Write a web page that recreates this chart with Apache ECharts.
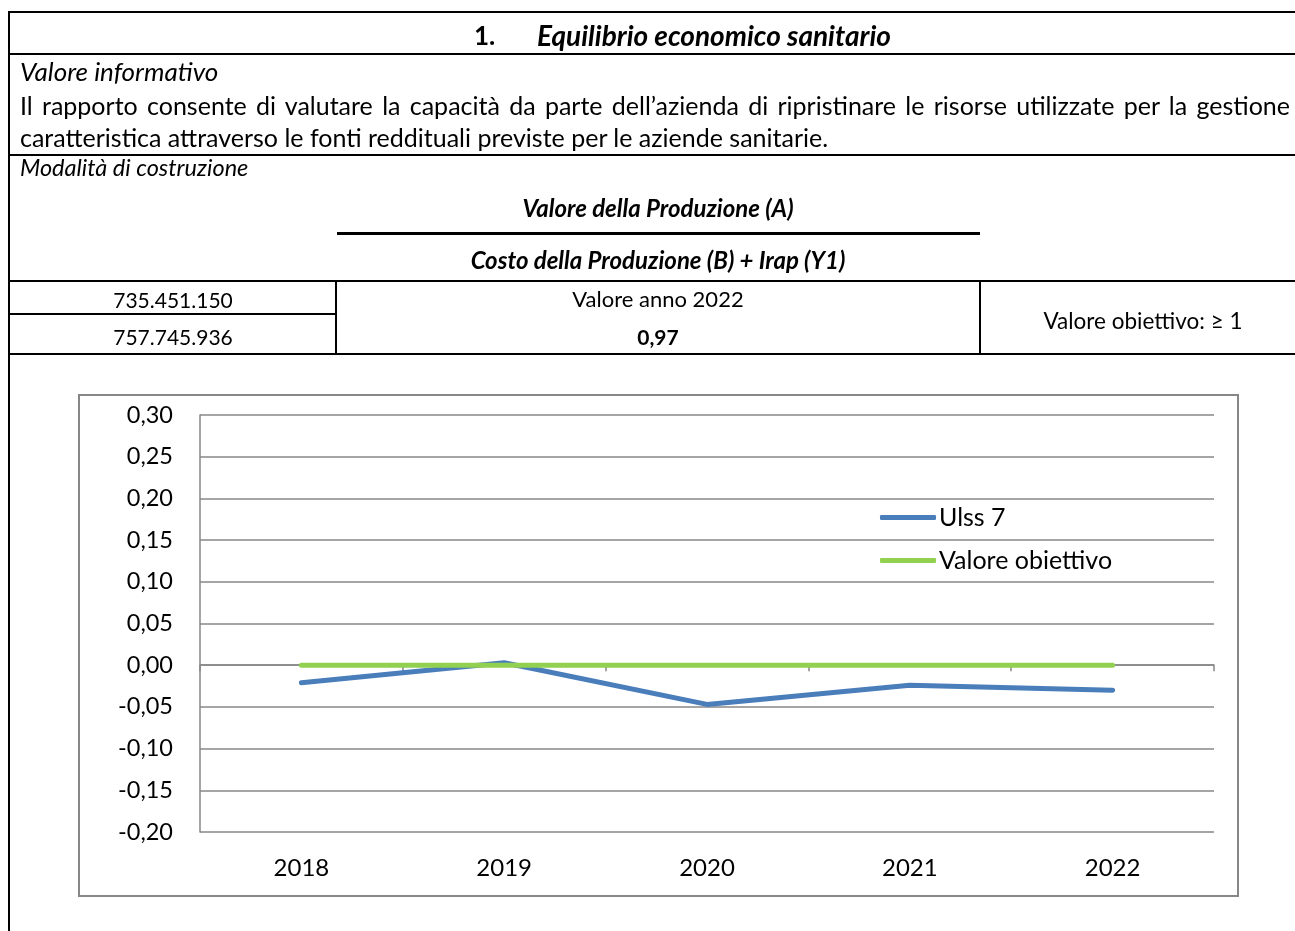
<!DOCTYPE html>
<html lang="it">
<head>
<meta charset="utf-8">
<title>Equilibrio economico sanitario</title>
<script src="https://cdn.jsdelivr.net/npm/echarts@6/dist/echarts.min.js"></script>
<style>
  html, body { margin: 0; padding: 0; background: #fff; }
  body { width: 1295px; height: 931px; position: relative; overflow: hidden;
         font-family: Lato, "Open Sans", "Noto Sans", sans-serif; color: #000; }
  #chart { position: absolute; left: 0; top: 0; width: 1295px; height: 931px; }
  .ln { position: absolute; background: #000; }
  .t { position: absolute; white-space: nowrap; line-height: 1; }
  .c { transform: translate(-50%, -50%); }
  .l { transform: translateY(-50%); }
  .bi { font-weight: bold; font-style: italic; }
  .i { font-style: italic; }
  .b { font-weight: bold; }
  .para { position: absolute; left: 20px; width: 1270px; font-size: 25px; line-height: 1;
          white-space: nowrap; transform: translateY(-50%); }
  .just { text-align: justify; text-align-last: justify; }
</style>
</head>
<body>
<div id="chart"></div>

<!-- table frame -->
<div class="ln" style="left:8px; top:11px; width:1287px; height:2px"></div>
<div class="ln" style="left:8px; top:11px; width:2px; height:920px"></div>
<div class="ln" style="left:8px; top:53px; width:1287px; height:2px"></div>
<div class="ln" style="left:8px; top:154px; width:1287px; height:2px"></div>
<div class="ln" style="left:337px; top:232px; width:643px; height:3px"></div>
<div class="ln" style="left:8px; top:280px; width:1287px; height:2px"></div>
<div class="ln" style="left:8px; top:313px; width:328px; height:2px"></div>
<div class="ln" style="left:335px; top:280px; width:2px; height:75px"></div>
<div class="ln" style="left:979px; top:280px; width:2px; height:75px"></div>
<div class="ln" style="left:8px; top:353px; width:1287px; height:2px"></div>

<!-- table text -->
<div class="t l b" style="left:474px; top:35px; font-size:26px">1.</div>
<div class="t l bi" style="left:537px; top:35px; font-size:28px">Equilibrio economico sanitario</div>
<div class="t l i" style="left:20px; top:71px; font-size:26px">Valore informativo</div>
<div class="para just" style="top:105px">Il rapporto consente di valutare la capacità da parte dell’azienda di ripristinare le risorse utilizzate per la gestione</div>
<div class="para" style="top:137px">caratteristica attraverso le fonti reddituali previste per le aziende sanitarie.</div>
<div class="t l i" style="left:20px; top:168px; font-size:23.5px">Modalità di costruzione</div>
<div class="t c bi" style="left:658px; top:208px; font-size:24px">Valore della Produzione (A)</div>
<div class="t c bi" style="left:658px; top:260px; font-size:24px">Costo della Produzione (B) + Irap (Y1)</div>
<div class="t c" id="num" style="left:173px; top:299px; font-size:21px"></div>
<div class="t c" id="den" style="left:173px; top:336px; font-size:21px"></div>
<div class="t c" id="yearLbl" style="left:658px; top:299px; font-size:22px"></div>
<div class="t c b" id="ratio" style="left:658px; top:336px; font-size:21px"></div>
<div class="t c" style="left:1143px; top:321px; font-size:22.5px">Valore obiettivo: ≥ 1</div>

<script>
// Indicator figures for the reference year
const referenceYear = 2022;
const valoreProduzione = 735451150;   // A
const costoProduzione = 757745936;    // B + Y1
const ratioShown = 0.97;

// Chart data: yearly ratio shown as deviation from the target (ratio - 1)
const years = ['2018', '2019', '2020', '2021', '2022'];
const ulss7 = [-0.021, 0.003, -0.047, -0.024, ratioShown - 1];
const obiettivo = [0, 0, 0, 0, 0];
const seriesNames = ['Ulss 7', 'Valore obiettivo'];
const yMin = -0.2, yMax = 0.3, yStep = 0.05;

const fmtInt = n => String(n).replace(/\B(?=(\d{3})+(?!\d))/g, '.');
const fmtDec = v => v.toFixed(2).replace('.', ',');

document.getElementById('num').textContent = fmtInt(valoreProduzione);
document.getElementById('den').textContent = fmtInt(costoProduzione);
document.getElementById('yearLbl').textContent = 'Valore anno ' + referenceYear;
document.getElementById('ratio').textContent = fmtDec(ratioShown);

const FONT = 'Lato, "Open Sans", "Noto Sans", sans-serif';
const GRAY = '#878787';

const chart = echarts.init(document.getElementById('chart'), null, { renderer: 'canvas' });
chart.setOption({
  backgroundColor: 'transparent',
  animation: false,
  textStyle: { fontFamily: FONT },
  graphic: [{
    type: 'rect',
    shape: { x: 79, y: 395, width: 1159, height: 501 },
    style: { fill: 'none', stroke: GRAY, lineWidth: 2 },
    silent: true
  }],
  grid: { left: 200, top: 415, right: 81, bottom: 99, containLabel: false, outerBoundsMode: 'none' },
  legend: {
    orient: 'vertical',
    left: 880,
    top: 505,
    padding: 0,
    icon: 'roundRect',
    itemWidth: 56,
    itemHeight: 5,
    itemGap: 18,
    data: seriesNames,
    textStyle: { fontFamily: FONT, fontSize: 25, color: '#000', lineHeight: 25, padding: [0, 0, 0, -2] }
  },
  xAxis: [{
    type: 'category',
    position: 'bottom',
    data: years,
    boundaryGap: true,
    axisLine: { show: false, onZero: false },
    axisTick: { show: false },
    axisLabel: { fontFamily: FONT, fontSize: 24, color: '#000', margin: 24 }
  }, {
    // zero baseline carrying the category ticks
    type: 'category',
    position: 'bottom',
    data: years,
    boundaryGap: true,
    axisLine: { show: true, onZero: true, onZeroAxisIndex: 0, lineStyle: { color: GRAY, width: 1.5 } },
    axisTick: { show: true, length: 6, lineStyle: { color: GRAY, width: 1.5 } },
    axisLabel: { show: false },
    splitLine: { show: false }
  }],
  yAxis: {
    type: 'value',
    min: yMin,
    max: yMax,
    interval: yStep,
    axisLine: { show: true, onZero: false, lineStyle: { color: GRAY, width: 1.5 } },
    axisTick: { show: false },
    axisLabel: { fontFamily: FONT, fontSize: 23.5, color: '#000', margin: 27, formatter: v => fmtDec(v) },
    splitLine: { show: true, lineStyle: { color: GRAY, width: 1.5 } }
  },
  series: [{
    name: seriesNames[0],
    type: 'line',
    data: ulss7,
    symbol: 'none',
    color: '#4A7EBB',
    lineStyle: { width: 5, cap: 'round', join: 'round', color: '#4A7EBB' }
  }, {
    name: seriesNames[1],
    type: 'line',
    data: obiettivo,
    symbol: 'none',
    color: '#92D050',
    lineStyle: { width: 5, cap: 'round', join: 'round', color: '#92D050' }
  }]
});
</script>
</body>
</html>
